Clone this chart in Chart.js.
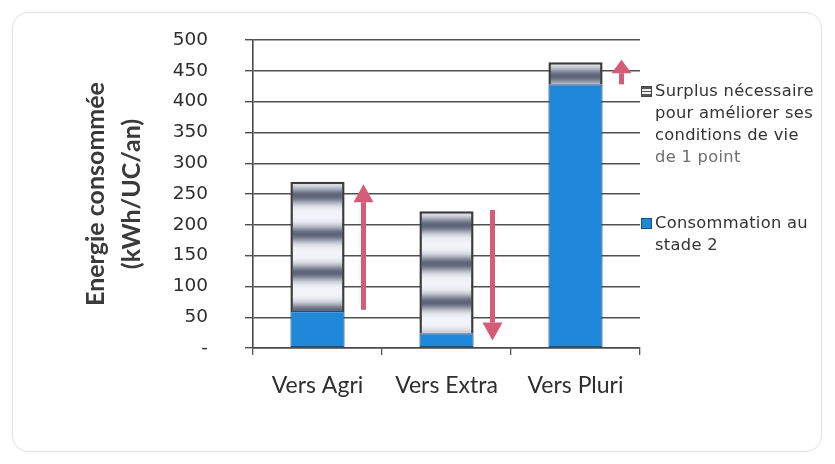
<!DOCTYPE html>
<html lang="fr">
<head>
<meta charset="utf-8">
<script src="https://cdn.jsdelivr.net/npm/chart.js@4.4.1/dist/chart.umd.min.js"></script>
<style>
    body { margin: 0; background: #fff; }
    #wrap { position: relative; width: 835px; height: 464px; }
    #frame {
        position: absolute; left: 12px; top: 12px; width: 808px; height: 438px;
        border: 1.5px solid #e3e3e3; border-radius: 16px;
    }
    canvas { position: absolute; left: 0; top: 0; }
    .legend {
        position: absolute; left: 641px;
        font-family: "DejaVu Sans", sans-serif; font-size: 16.3px; letter-spacing: 0.3px;
        color: #333; line-height: 22px;
    }
    .legend .box {
        position: absolute; left: 0; top: 6px; width: 9px; height: 9px;
    }
    .legend .txt { margin-left: 14px; }
    .legend .faint { color: #6e6e6e; }
</style>
</head>
<body>
<div id="wrap">
    <div id="frame"></div>
    <canvas id="chart" width="835" height="464"></canvas>
    <div class="legend" style="top:80px">
        <div class="box" id="boxSurplus"></div>
        <div class="txt">Surplus nécessaire<br>pour améliorer ses<br>conditions de vie<br><span class="faint">de 1 point</span></div>
    </div>
    <div class="legend" style="top:212px">
        <div class="box" style="background:#2088d8;border:1px solid #1d4f7c;"></div>
        <div class="txt">Consommation au<br>stade 2</div>
    </div>
</div>
<script>
// categories and values (kWh/UC/an)
const categories = ["Vers Agri", "Vers Extra", "Vers Pluri"];
const conso = [60, 24, 428];
const surplus = [210, 198, 36];
const yTicks = [0, 50, 100, 150, 200, 250, 300, 350, 400, 450, 500];

// arrows: start and end value for each category
const arrowFrom = [62, 224, 428];
const arrowTo = [266, 12, 468];

const PINK = "#d55c78";

// banded grey fill of the surplus bars
function bandGradient(c, top, bottom) {
    const g = c.createLinearGradient(0, top, 0, bottom);
    const h = Math.max(bottom - top, 1);
    const period = 38.5, first = 14;
    for (let d = 0; d <= h; d += 2) {
        let k = Math.round((d - first) / period);
        const dist = d - (first + k * period);
        const t = Math.exp(-Math.pow(dist / 8, 2));
        const r = Math.round(244 + (92 - 244) * t);
        const gg = Math.round(245 + (98 - 245) * t);
        const b = Math.round(250 + (120 - 250) * t);
        g.addColorStop(d / h, `rgb(${r},${gg},${b})`);
    }
    return g;
}

document.getElementById("boxSurplus").style.background =
    "linear-gradient(#555 0 2px, #eee 2px 4px, #555 4px 5px, #eee 5px 7px, #555 7px 9px)";
document.getElementById("boxSurplus").style.border = "1px solid #444";

const arrowPlugin = {
    id: "arrows",
    afterDatasetsDraw(chart) {
        const { ctx, scales: { x, y } } = chart;
        ctx.save();
        ctx.fillStyle = PINK;
        categories.forEach((_, i) => {
            const cx = x.getPixelForValue(i) + 46;
            const y1 = y.getPixelForValue(arrowFrom[i]);
            const y2 = y.getPixelForValue(arrowTo[i]);
            const dir = y2 < y1 ? -1 : 1;
            const len = Math.abs(y2 - y1);
            const head = Math.min(18, len * 0.55);
            const yh = y2 - dir * head;
            ctx.fillRect(cx - 2.5, Math.min(y1, yh), 5, Math.abs(yh - y1));
            ctx.beginPath();
            ctx.moveTo(cx - 10, yh);
            ctx.lineTo(cx + 10, yh);
            ctx.lineTo(cx, y2);
            ctx.closePath();
            ctx.fill();
        });
        ctx.restore();
    }
};

new Chart(document.getElementById("chart"), {
    type: "bar",
    data: {
        labels: categories,
        datasets: [
            {
                label: "Consommation au stade 2",
                data: conso,
                backgroundColor: "#2088d8",
                borderColor: "#1d4f7c",
                borderWidth: 1.2,
                borderSkipped: false
            },
            {
                label: "Surplus nécessaire pour améliorer ses conditions de vie de 1 point",
                data: surplus,
                backgroundColor: c => {
                    const chart = c.chart;
                    if (c.type !== "data" || !chart.chartArea) return "#ddd";
                    const i = c.dataIndex;
                    const top = chart.scales.y.getPixelForValue(conso[i] + surplus[i]);
                    const bot = chart.scales.y.getPixelForValue(conso[i]);
                    return bandGradient(chart.ctx, top, bot);
                },
                borderColor: "#3c3c3c",
                borderWidth: { top: 2.5, left: 2.5, right: 2.5, bottom: 0 },
                borderSkipped: false
            }
        ]
    },
    options: {
        responsive: false,
        animation: false,
        layout: { padding: { top: 40, right: 195, left: 0, bottom: 0 } },
        datasets: { bar: { categoryPercentage: 1, barPercentage: 0.42 } },
        plugins: { legend: { display: false }, tooltip: { enabled: false } },
        scales: {
            x: {
                stacked: true,
                afterFit: s => { s.height = 116; },
                grid: { offset: true, drawOnChartArea: false, color: "#555", tickLength: 7, lineWidth: 1.3 },
                border: { color: "#4a4a4a", width: 1.6 },
                ticks: {
                    color: "#2e2e2e", padding: 17,
                    font: { family: "Lato", size: 23 }
                }
            },
            y: {
                stacked: true,
                min: 0, max: 500,
                afterFit: s => {
                    s.width = 253;
                    // the wide label gap should not push the plot down
                    s.paddingTop = 0;
                    s.paddingBottom = 0;
                },
                afterBuildTicks: s => { s.ticks = yTicks.map(v => ({ value: v })); },
                grid: { color: "#505050", lineWidth: 1.4, tickLength: 8 },
                border: { color: "#4a4a4a", width: 1.6 },
                ticks: {
                    color: "#2e2e2e", padding: 37,
                    font: { family: "DejaVu Sans", size: 18.5 },
                    callback: v => v === 0 ? "-" : v
                },
                title: {
                    display: true,
                    text: ["Energie consommée", "(kWh/UC/an)"],
                    color: "#3a3a3a",
                    padding: { top: 78 },
                    font: { family: "Lato", size: 25, weight: "bold", lineHeight: "36px" }
                }
            }
        }
    },
    plugins: [arrowPlugin]
});
</script>
</body>
</html>
